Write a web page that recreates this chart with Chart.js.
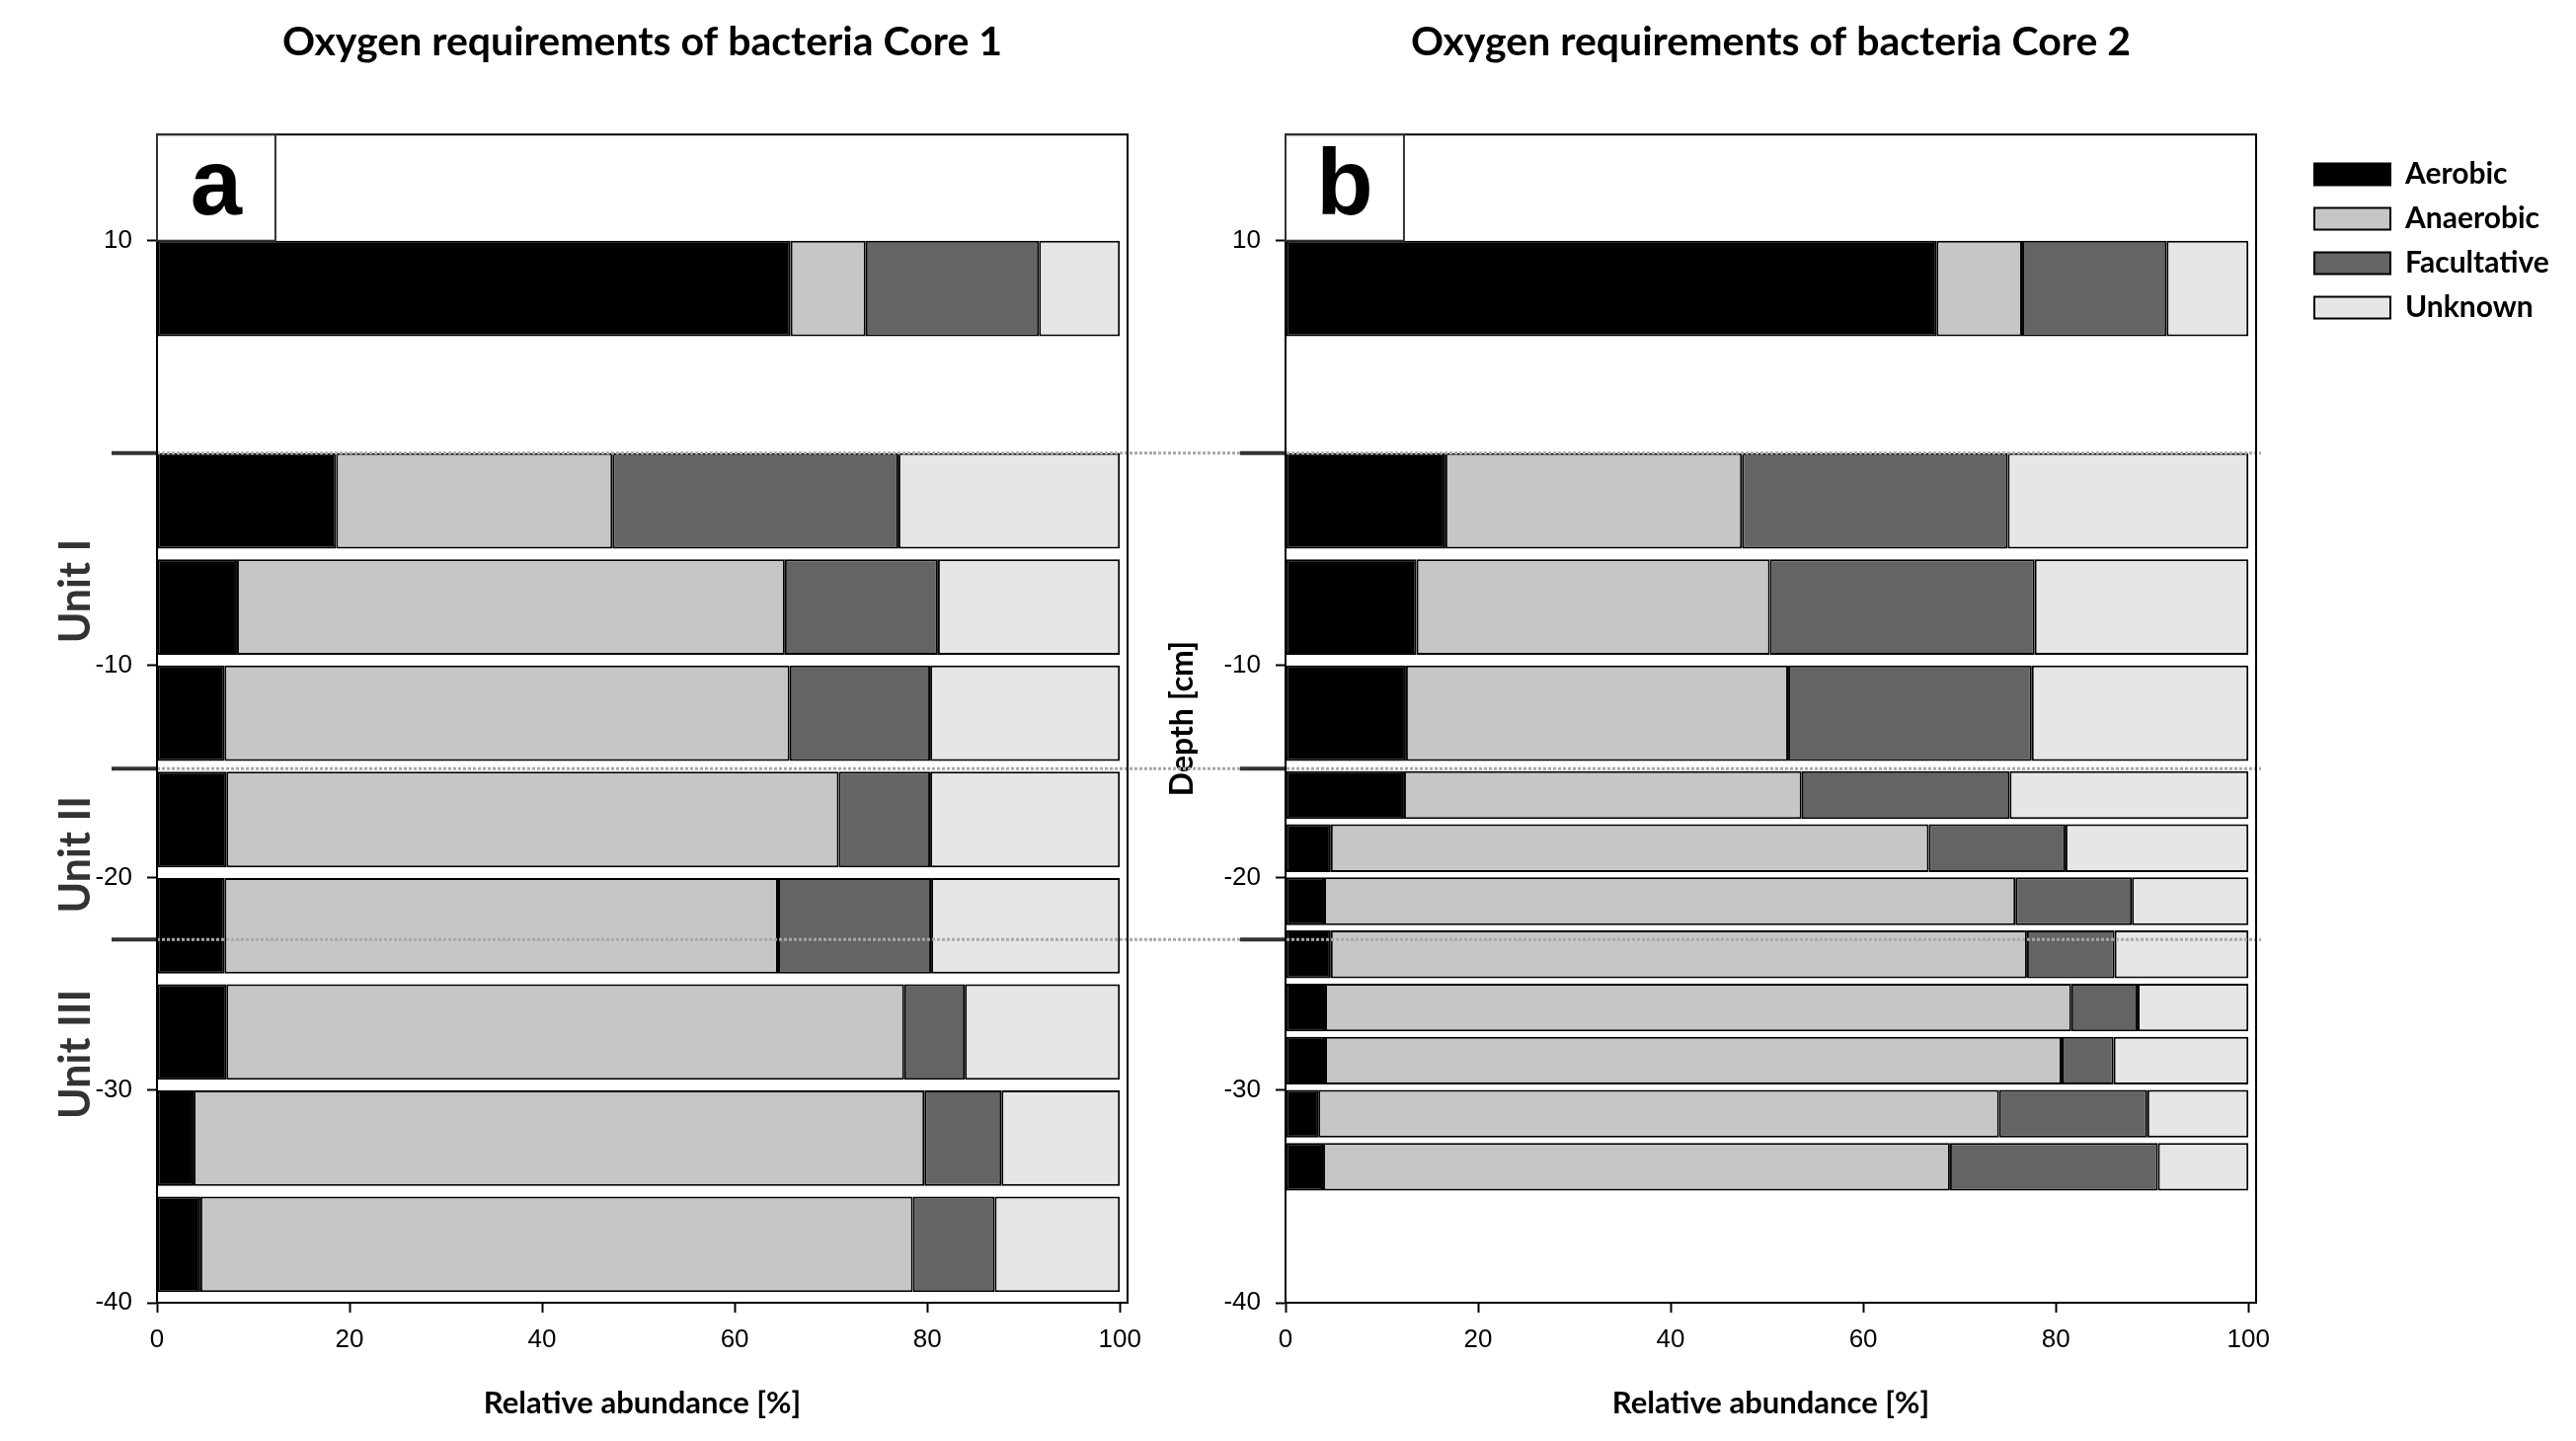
<!DOCTYPE html>
<html>
<head>
<meta charset="utf-8">
<script src="https://cdn.jsdelivr.net/npm/chart.js@4.4.1/dist/chart.umd.min.js"></script>
<style>
  body { margin: 0; background: #fff; }
  #wrap { position: relative; width: 2609px; height: 1459px; }
  #core1 { position: absolute; left: 0; top: 0; }
  #core2 { position: absolute; left: 900px; top: 0; }
</style>
</head>
<body>
<div id="wrap">
  <canvas id="core1" width="1170" height="1459"></canvas>
  <canvas id="core2" width="1709" height="1459"></canvas>
</div>
<script>
// series names and colours
var seriesNames = ['Aerobic', 'Anaerobic', 'Facultative', 'Unknown'];
var seriesColors = ['#000000', '#c6c6c6', '#646464', '#e6e6e6'];

// Core 1: sample mid-depths [cm], sampling interval [cm], relative abundance [%]
var core1Depth = [7.75, -2.25, -7.25, -12.25, -17.25, -22.25, -27.25, -32.25, -37.25];
var core1Interval = [5, 5, 5, 5, 5, 5, 5, 5, 5];
var core1Aerobic = [65.8, 18.6, 8.3, 7.0, 7.2, 7.0, 7.2, 3.8, 4.5];
var core1Anaerobic = [7.8, 28.7, 56.9, 58.7, 63.6, 57.5, 70.4, 75.9, 74.0];
var core1Facultative = [18.0, 29.7, 15.9, 14.6, 9.5, 15.9, 6.3, 8.0, 8.5];
var core1Unknown = [8.4, 23.0, 18.9, 19.7, 19.7, 19.6, 16.1, 12.3, 13.0];

// Core 2
var core2Depth = [7.75, -2.25, -7.25, -12.25, -16.1, -18.6, -21.1, -23.6, -26.1, -28.6, -31.1, -33.6];
var core2Interval = [5, 5, 5, 5, 2.5, 2.5, 2.5, 2.5, 2.5, 2.5, 2.5, 2.5];
var core2Aerobic = [67.6, 16.6, 13.6, 12.5, 12.3, 4.7, 4.0, 4.7, 4.1, 4.1, 3.4, 3.9];
var core2Anaerobic = [8.9, 30.8, 36.7, 39.7, 41.3, 62.1, 71.8, 72.3, 77.5, 76.5, 70.7, 65.1];
var core2Facultative = [15.0, 27.6, 27.5, 25.3, 21.6, 14.2, 12.1, 9.1, 6.9, 5.4, 15.4, 21.6];
var core2Unknown = [8.5, 25.0, 22.2, 22.5, 24.8, 19.0, 12.1, 13.9, 11.5, 14.0, 10.5, 9.4];

// tick labels and annotations
var xTicks = [0, 20, 40, 60, 80, 100];
var yTicks = [10, 0, -10, -20, -30, -40];
var unitBoundaries = [0, -14.85, -22.9];
var unitNames = ['Unit I', 'Unit II', 'Unit III'];
var unitLabelDepth = [-6.5, -18.9, -28.3];

function buildDatasets(depth, interval, series) {
  var minInt = Math.min.apply(null, interval);
  var groups = [];
  interval.forEach(function (v) { if (groups.indexOf(v) < 0) groups.push(v); });
  groups.sort(function (a, b) { return a - b; });
  var sets = [];
  groups.forEach(function (g) {
    series.forEach(function (vals, s) {
      var pts = [];
      vals.forEach(function (v, i) { if (interval[i] === g) pts.push({ x: v, y: depth[i] }); });
      sets.push({
        label: seriesNames[s],
        data: pts,
        backgroundColor: seriesColors[s],
        borderColor: '#000',
        borderWidth: 2,
        borderSkipped: false,
        stack: 'core',
        xAxisID: 'x',
        yAxisID: 'y',
        categoryPercentage: 1,
        barPercentage: 0.9 * g / minInt
      });
    });
  });
  return sets;
}

var framePlugin = {
  id: 'frame',
  afterDatasetsDraw: function (chart, args, opts) {
    var ctx = chart.ctx, a = chart.chartArea, x = chart.scales.x, y = chart.scales.y;
    ctx.save();
    // dotted unit boundaries
    ctx.strokeStyle = '#a8a8a8';
    ctx.lineWidth = 3;
    ctx.setLineDash([3, 2]);
    unitBoundaries.forEach(function (d) {
      var py = y.getPixelForValue(d);
      ctx.beginPath();
      ctx.moveTo(a.left - opts.lineBefore, py);
      ctx.lineTo(a.right + opts.lineAfter, py);
      ctx.stroke();
    });
    ctx.setLineDash([]);
    ctx.strokeStyle = '#333';
    ctx.lineWidth = 4;
    unitBoundaries.forEach(function (d) {
      var py = y.getPixelForValue(d);
      ctx.beginPath();
      ctx.moveTo(a.left - 46, py);
      ctx.lineTo(a.left, py);
      ctx.stroke();
    });
    // plot frame
    ctx.strokeStyle = '#000';
    ctx.lineWidth = 2;
    ctx.strokeRect(a.left, a.top, a.right - a.left, a.bottom - a.top);
    // panel letter box
    var bx0 = x.getPixelForValue(0), bx1 = x.getPixelForValue(12.3);
    var by0 = y.getPixelForValue(15), by1 = y.getPixelForValue(10);
    ctx.strokeStyle = '#333';
    ctx.lineWidth = 2;
    ctx.strokeRect(bx0, by0, bx1 - bx0, by1 - by0);
    ctx.fillStyle = '#000';
    ctx.font = 'bold 94px "Liberation Sans", Arial, sans-serif';
    ctx.textAlign = 'center';
    ctx.textBaseline = 'alphabetic';
    ctx.fillText(opts.letter, (bx0 + bx1) / 2, by1 - 27);
    // unit labels
    if (opts.units) {
      ctx.fillStyle = '#333';
      ctx.font = 'bold 43px Lato, sans-serif';
      ctx.textBaseline = 'middle';
      unitNames.forEach(function (n, i) {
        ctx.save();
        ctx.translate(77, y.getPixelForValue(unitLabelDepth[i]));
        ctx.rotate(-Math.PI / 2);
        ctx.fillText(n, 0, 0);
        ctx.restore();
      });
    }
    ctx.restore();
  }
};

function makeOptions(cfg) {
  return {
    indexAxis: 'y',
    responsive: false,
    animation: false,
    devicePixelRatio: 1,
    layout: { padding: { left: 0, right: cfg.padRight, top: 0, bottom: 0 } },
    scales: {
      x: {
        type: 'linear', position: 'bottom', stacked: true, min: 0, max: 100.8, offset: false,
        afterBuildTicks: function (s) { s.ticks = xTicks.map(function (v) { return { value: v }; }); },
        afterFit: function (s) { s.height = 140; },
        grid: { display: true, offset: false, drawOnChartArea: false, tickLength: 10, tickWidth: 2, tickColor: '#000' },
        border: { display: true, color: '#000', width: 2 },
        ticks: { color: '#000', padding: 12, maxRotation: 0, font: { family: '"Liberation Sans", Arial, sans-serif', size: 26 } },
        title: { display: true, text: 'Relative abundance [%]', color: '#000', padding: { top: 0, bottom: 19 },
                 font: { family: 'Lato, sans-serif', size: 31, weight: 'bold' } }
      },
      y: {
        type: 'linear', position: 'left', stacked: true, min: -40, max: 15, offset: false,
        afterBuildTicks: function (s) { s.ticks = yTicks.map(function (v) { return { value: v }; }); },
        afterFit: function (s) { s.width = cfg.yWidth; },
        grid: { display: true, offset: false, drawOnChartArea: false, tickLength: 10, tickWidth: 2, tickColor: '#000' },
        border: { display: true, color: '#000', width: 2 },
        ticks: {
          color: '#000', padding: 15,
          font: { family: '"Liberation Sans", Arial, sans-serif', size: 26 },
          callback: function (v) { return v === 0 ? '' : String(v); }
        },
        title: { display: cfg.yTitle, text: 'Depth [cm]', color: '#000', padding: { top: cfg.yTitlePad, bottom: 0 },
                 font: { family: 'Lato, sans-serif', size: 32, weight: 'bold' } }
      },
      yR: {
        type: 'linear', position: 'right', display: cfg.legend,
        afterFit: function (s) { s.width = cfg.legend ? 44 : 0; },
        grid: { display: false }, border: { display: false }, ticks: { display: false }
      }
    },
    plugins: {
      title: {
        display: true, text: cfg.title, color: '#000', fullSize: false,
        padding: { top: 18, bottom: 69 },
        font: { family: 'Lato, sans-serif', size: 41, weight: 'bold' }
      },
      legend: {
        display: cfg.legend, position: 'right', align: 'start', fullSize: false,
        title: { display: true, text: '', padding: { top: 9, bottom: 0 }, font: { size: 1 } },
        labels: {
          boxWidth: 77, boxHeight: 22, padding: 15, color: '#000',
          font: { family: 'Lato, sans-serif', size: 30, weight: 'bold' },
          filter: function (item) { return item.datasetIndex < 4; }
        }
      },
      tooltip: { enabled: false },
      frame: { letter: cfg.letter, units: cfg.units, lineBefore: cfg.lineBefore, lineAfter: cfg.lineAfter }
    }
  };
}

var chart1 = new Chart(document.getElementById('core1'), {
  type: 'bar',
  data: { datasets: buildDatasets(core1Depth, core1Interval, [core1Aerobic, core1Anaerobic, core1Facultative, core1Unknown]) },
  options: makeOptions({ title: 'Oxygen requirements of bacteria Core 1', letter: 'a', units: true, legend: false,
                         yTitle: false, yTitlePad: 0, yWidth: 159, padRight: 28, lineBefore: 0, lineAfter: 28 }),
  plugins: [framePlugin]
});

var chart2 = new Chart(document.getElementById('core2'), {
  type: 'bar',
  data: { datasets: buildDatasets(core2Depth, core2Interval, [core2Aerobic, core2Anaerobic, core2Facultative, core2Unknown]) },
  options: makeOptions({ title: 'Oxygen requirements of bacteria Core 2', letter: 'b', units: false, legend: true,
                         yTitle: true, yTitlePad: 278, yWidth: 402, padRight: 20, lineBefore: 134, lineAfter: 5 }),
  plugins: [framePlugin]
});
// keep the right plot edge where the reference has it, whatever the legend width
var shift = chart2.chartArea.right - 1385;
chart2.options.layout.padding.right = Math.max(0, chart2.options.layout.padding.right + shift);
chart2.update();
</script>
</body>
</html>
